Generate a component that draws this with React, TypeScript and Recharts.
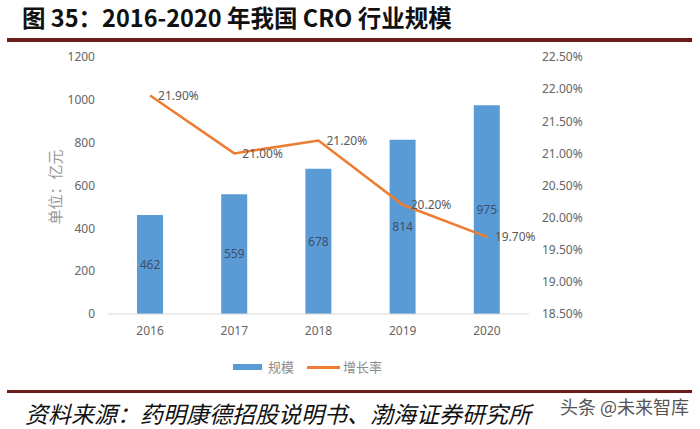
import React from 'react'
import { ComposedChart, Bar, Line, XAxis, YAxis, LabelList } from 'recharts'

const years = ['2016', '2017', '2018', '2019', '2020']
const scale = [462, 559, 678, 814, 975]
const growth = [21.9, 21.0, 21.2, 20.2, 19.7]
const leftTicks = [0, 200, 400, 600, 800, 1000, 1200]
const rightTicks = [18.5, 19.0, 19.5, 20.0, 20.5, 21.0, 21.5, 22.0, 22.5]

const data = years.map((y, i) => ({ year: y, scale: scale[i], growth: growth[i] }))

const BLUE = '#5b9bd5'
const ORANGE = '#ed7d31'
const GREY = '#666666'
const MAROON = '#6e1a1a'
const FONT = '"Noto Sans", "Noto Sans CJK SC", sans-serif'
const CJK = '"Noto Sans CJK SC", sans-serif'

export default function App() {
  return (
    <div style={{ position: 'relative', width: 700, height: 429, background: '#fff', overflow: 'hidden' }}>
      <style>{'body{margin:0}'}</style>
      <div style={{ position: 'absolute', left: 22, top: 6, fontSize: 23.5, lineHeight: 1, fontWeight: 700, color: '#111', fontFamily: CJK, whiteSpace: 'nowrap' }}>
        图 35：2016-2020 年我国 CRO 行业规模
      </div>
      <div style={{ position: 'absolute', left: 7, top: 38, width: 685, height: 4, background: MAROON }} />

      <div style={{ position: 'absolute', left: 0, top: 0 }}>
        <ComposedChart width={700} height={429} data={data} margin={{ top: 57, right: 111, left: 58, bottom: 85 }} barCategoryGap={0}>
          <XAxis dataKey="year" axisLine={{ stroke: '#d9d9d9' }} tickLine={false} tickSize={0} tickMargin={12}
            tick={{ fontSize: 12, fill: GREY, fontFamily: FONT }} height={30} />
          <YAxis yAxisId="l" width={50} domain={[0, 1200]} ticks={leftTicks} axisLine={false} tickLine={false} tickSize={0} tickMargin={13}
            tick={{ fontSize: 12, fill: GREY, fontFamily: FONT }} interval={0} />
          <YAxis yAxisId="r" orientation="right" width={60} domain={[18.5, 22.5]} ticks={rightTicks} axisLine={false} tickLine={false} tickSize={0} tickMargin={13}
            tick={{ fontSize: 12, fill: GREY, fontFamily: FONT }} tickFormatter={(v: number) => `${v.toFixed(2)}%`} interval={0} />
          <Bar yAxisId="l" dataKey="scale" name="规模" fill={BLUE} barSize={26} isAnimationActive={false}>
            <LabelList dataKey="scale" position="center" fill="#3b4f6b" fontSize={12} fontFamily={FONT} />
          </Bar>
          <Line yAxisId="r" dataKey="growth" name="增长率" type="linear" stroke={ORANGE} strokeWidth={2.5} dot={false} isAnimationActive={false}>
            <LabelList dataKey="growth" position="right" offset={8} fill="#595959" fontSize={12} fontFamily={FONT}
              formatter={(v: number) => `${Number(v).toFixed(2)}%`} />
          </Line>
        </ComposedChart>
      </div>

      <div style={{ position: 'absolute', left: 233, top: 359, display: 'flex', alignItems: 'center', fontSize: 13, color: '#8c8c8c', fontFamily: CJK, lineHeight: '16px' }}>
        <span style={{ display: 'inline-block', width: 29, height: 6, background: BLUE, marginRight: 6 }} />
        <span style={{ marginRight: 13 }}>规模</span>
        <span style={{ display: 'inline-block', width: 33, height: 3, background: ORANGE, marginRight: 3 }} />
        <span>增长率</span>
      </div>

      <div style={{ position: 'absolute', left: 54, top: 187, transform: 'translate(-50%, -50%) rotate(-90deg)', fontSize: 15, color: '#999', fontFamily: CJK, whiteSpace: 'nowrap' }}>
        单位：亿元
      </div>

      <div style={{ position: 'absolute', left: 7, top: 390, width: 685, height: 3, background: MAROON }} />
      <div style={{ position: 'absolute', left: 25, top: 402, fontSize: 23, lineHeight: 1, fontStyle: 'italic', color: '#111', fontFamily: CJK, whiteSpace: 'nowrap' }}>
        资料来源：药明康德招股说明书、渤海证券研究所
      </div>
      <div style={{ position: 'absolute', left: 560, top: 397, fontSize: 18, lineHeight: 1, color: '#555', fontFamily: CJK, whiteSpace: 'nowrap' }}>
        头条 @未来智库
      </div>
    </div>
  )
}
